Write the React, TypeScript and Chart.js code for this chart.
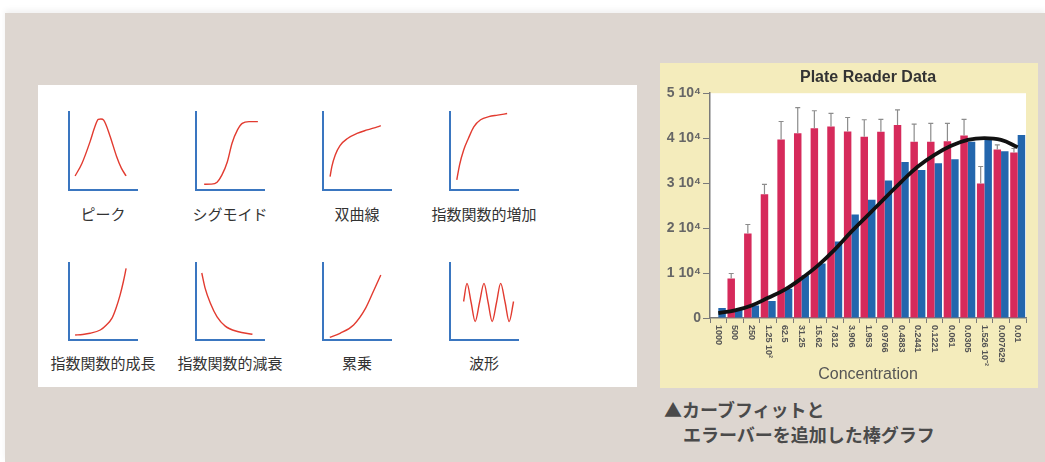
import React, { useEffect, useRef } from "react";
import { Chart, registerables } from "chart.js";

Chart.register(...registerables);

// ---------- Plate Reader data ----------
const concentrations = [
  "1000", "500", "250", "1.25 10²", "62.5", "31.25", "15.62", "7.812", "3.906", "1.953",
  "0.9766", "0.4883", "0.2441", "0.1221", "0.061", "0.0305", "1.526 10⁻²", "0.007629", "0.01",
];
const redValues = [null, 8800, 18800, 27500, 39700, 41100, 42200, 42600, 41500, 40300, 41400, 42900, 39200, 39200, 39300, 40600, 29900, 37500, 36800];
const redErrors = [0, 1100, 2000, 2200, 4000, 5700, 3900, 2900, 3100, 3800, 2800, 3400, 3900, 4100, 4000, 3600, 3800, 1000, 900];
const blueValues = [2200, 1800, 2800, 3800, 6500, 9500, 12100, 17000, 23000, 26300, 30600, 34700, 32900, 34400, 35300, 39200, 39700, 37100, 40700];
const fitValues = [1100, 1700, 2800, 4500, 6300, 8800, 11700, 15200, 19200, 22900, 26600, 30300, 33700, 36300, 38300, 39600, 40000, 39600, 38000];
const yTicks = [0, 10000, 20000, 30000, 40000, 50000];

// ---------- Curve-type thumbnails (values on a 0..10 grid) ----------
const peakX = [0.9, 1.9, 3.1, 3.8, 4.3, 4.7, 5.1, 6.0, 7.0, 7.7, 8.4];
const peakY = [1.8, 3.4, 6.2, 8.1, 9.05, 9.1, 8.95, 7.0, 4.3, 2.8, 1.8];
const sigX = [1.2, 2.2, 3.1, 3.8, 4.6, 5.3, 6.1, 6.8, 7.8, 9.1];
const sigY = [0.73, 0.75, 1.0, 1.9, 3.6, 6.0, 7.7, 8.55, 8.76, 8.76];
const hypX = [1.04, 1.3, 1.8, 2.5, 3.6, 5.0, 6.5, 8.0, 8.5];
const hypY = [1.7, 3.0, 4.5, 5.7, 6.6, 7.25, 7.7, 8.1, 8.25];
const expIncX = [1.0, 1.4, 2.0, 2.7, 3.5, 4.5, 5.7, 7.0, 8.4];
const expIncY = [1.3, 3.2, 5.1, 6.6, 8.1, 9.0, 9.4, 9.6, 9.8];
const expGrowX = [0.9, 2.0, 3.1, 4.6, 5.5, 6.3, 6.9, 7.5, 8.0, 8.4];
const expGrowY = [0.65, 0.72, 0.87, 1.3, 1.95, 2.8, 4.1, 5.8, 7.6, 9.3];
const decX = [0.85, 1.35, 2.1, 3.1, 4.3, 6.1, 8.3];
const decY = [8.7, 6.7, 4.8, 3.0, 1.8, 1.1, 0.74];
const powX = [1.0, 2.5, 4.5, 6.25, 7.5, 8.5];
const powY = [0.35, 0.87, 1.95, 4.1, 6.5, 8.45];
const waveX = [2.0, 2.5, 3.1, 3.7, 4.35, 5.0, 5.6, 6.2, 6.85, 7.45, 8.1, 8.7, 9.35];
const waveY = [5.0, 7.35, 4.9, 2.4, 4.9, 7.35, 4.9, 2.4, 4.9, 7.35, 4.9, 2.4, 5.0];

const curveNames = ["ピーク", "シグモイド", "双曲線", "指数関数的増加", "指数関数的成長", "指数関数的減衰", "累乗", "波形"];
const curveXs = [peakX, sigX, hypX, expIncX, expGrowX, decX, powX, waveX];
const curveYs = [peakY, sigY, hypY, expIncY, expGrowY, decY, powY, waveY];

const AXIS_BLUE = "#3a76c0";
const CURVE_RED = "#e23b30";

function MiniCurve(props: { xs: number[]; ys: number[]; axLeft: number; axTop: number; axRight: number; axBottom: number }) {
  const { xs, ys, axLeft, axTop, axRight, axBottom } = props;
  const ref = useRef<HTMLCanvasElement>(null);
  const w = axRight - axLeft + 3;
  const h = axBottom - axTop + 3;
  useEffect(() => {
    const axisOpts: any = {
      type: "linear",
      min: 0,
      max: 10,
      grid: { display: false, drawTicks: false },
      ticks: { display: false },
      border: { display: true, color: AXIS_BLUE, width: 2 },
    };
    const chart = new Chart(ref.current as HTMLCanvasElement, {
      type: "line",
      data: {
        datasets: [
          {
            data: xs.map((x, i) => ({ x, y: ys[i] })),
            borderColor: CURVE_RED,
            borderWidth: 1.4,
            pointRadius: 0,
            cubicInterpolationMode: "monotone",
            fill: false,
          } as any,
        ],
      },
      options: {
        animation: false,
        responsive: false,
        maintainAspectRatio: false,
        events: [],
        layout: { padding: { left: 2, top: 1, right: 1, bottom: 2 } },
        plugins: { legend: { display: false }, tooltip: { enabled: false } },
        scales: { x: { ...axisOpts }, y: { ...axisOpts } },
      },
    });
    return () => chart.destroy();
  }, []);
  return (
    <canvas
      ref={ref}
      width={w}
      height={h}
      style={{ position: "absolute", left: axLeft - 2, top: axTop - 1, width: w, height: h }}
    />
  );
}

function PlateChart() {
  const ref = useRef<HTMLCanvasElement>(null);
  useEffect(() => {
    const decor = {
      id: "decor",
      beforeDraw(chart: any) {
        const { ctx, chartArea: a } = chart;
        ctx.save();
        ctx.fillStyle = "#ffffff";
        ctx.fillRect(a.left, a.top, a.right - a.left, a.bottom - a.top);
        ctx.restore();
      },
      afterDatasetsDraw(chart: any) {
        const { ctx } = chart;
        const yScale = chart.scales.y;
        const meta = chart.getDatasetMeta(0);
        ctx.save();
        ctx.strokeStyle = "#8c8c8c";
        ctx.lineWidth = 1.2;
        meta.data.forEach((bar: any, i: number) => {
          const v = redValues[i];
          const e = redErrors[i];
          if (v == null || !e) return;
          const yTop = yScale.getPixelForValue(v + e);
          ctx.beginPath();
          ctx.moveTo(bar.x, bar.y);
          ctx.lineTo(bar.x, yTop);
          ctx.moveTo(bar.x - 2.5, yTop);
          ctx.lineTo(bar.x + 2.5, yTop);
          ctx.stroke();
        });
        ctx.restore();
      },
      afterDraw(chart: any) {
        const { ctx, chartArea } = chart;
        const xScale = chart.scales.x;
        ctx.save();
        ctx.fillStyle = "#555555";
        ctx.font = 'bold 9px "Liberation Sans", Arial, sans-serif';
        ctx.textAlign = "left";
        ctx.textBaseline = "middle";
        concentrations.forEach((lab, i) => {
          const x = xScale.getPixelForValue(i);
          ctx.save();
          ctx.translate(x, chartArea.bottom + 7);
          ctx.rotate(Math.PI / 2);
          ctx.fillText(lab, 0, 0);
          ctx.restore();
        });
        ctx.restore();
      },
    };

    const chart = new Chart(ref.current as HTMLCanvasElement, {
      type: "bar",
      data: {
        labels: concentrations,
        datasets: [
          {
            label: "A",
            data: redValues as any,
            backgroundColor: "#d62a5b",
            order: 1,
            categoryPercentage: 0.9,
            barPercentage: 1.0,
          },
          {
            label: "B",
            data: blueValues,
            backgroundColor: "#2366ad",
            order: 2,
            categoryPercentage: 0.9,
            barPercentage: 1.0,
          },
          {
            type: "line",
            label: "Fit",
            data: fitValues,
            borderColor: "#111111",
            borderWidth: 3.8,
            pointRadius: 0,
            tension: 0.4,
            fill: false,
            order: 0,
          } as any,
        ],
      },
      options: {
        animation: false,
        responsive: false,
        maintainAspectRatio: false,
        events: [],
        layout: { padding: { left: 0, right: 12, top: 0, bottom: 0 } },
        plugins: {
          legend: { display: false },
          tooltip: { enabled: false },
          title: {
            display: true,
            text: "Plate Reader Data",
            fullSize: false,
            color: "#333333",
            font: { size: 16, weight: "bold", family: '"Liberation Sans", Arial, sans-serif' },
            padding: { top: 5, bottom: 6 },
          },
        },
        scales: {
          x: {
            offset: true,
            grid: { display: true, drawOnChartArea: false, drawTicks: true, tickLength: 5, color: "#7a7a7a", offset: true },
            border: { color: "#7a7a7a", width: 1.5 },
            ticks: { display: false },
            title: {
              display: true,
              text: "Concentration",
              color: "#555555",
              font: { size: 16, family: '"Liberation Sans", Arial, sans-serif' },
              padding: { top: 0, bottom: 4 },
            },
            afterFit: (s: any) => {
              s.height = 70;
            },
          },
          y: {
            min: 0,
            max: 50000,
            afterBuildTicks: (s: any) => {
              s.ticks = yTicks.map((v) => ({ value: v }));
            },
            ticks: {
              color: "#666666",
              padding: 2,
              font: { size: 14, weight: "bold", family: '"Liberation Sans", Arial, sans-serif' },
              callback: (v: any) => (Number(v) === 0 ? "0" : `${Number(v) / 10000} 10⁴`),
            },
            grid: { display: true, drawOnChartArea: false, drawTicks: true, tickLength: 7, color: "#7a7a7a" },
            border: { color: "#7a7a7a", width: 1.5 },
            afterFit: (s: any) => {
              s.width = 50;
            },
          },
        },
      },
      plugins: [decor],
    });
    return () => chart.destroy();
  }, []);
  return (
    <canvas
      ref={ref}
      width={378}
      height={325}
      style={{ position: "absolute", left: 660, top: 63, width: 378, height: 325, background: "#f4ecbc" }}
    />
  );
}

const colLefts = [69, 196, 323, 450];
const rowAxes = [
  { top: 112, bottom: 190, label: 214 },
  { top: 263, bottom: 340, label: 363 },
];

export default function App() {
  return (
    <div
      style={{
        position: "fixed",
        left: 0,
        top: 0,
        width: 1045,
        height: 462,
        background: "#ffffff",
        overflow: "hidden",
        fontFamily: '"Noto Sans CJK JP", "Noto Sans", sans-serif',
      }}
    >
      <div
        style={{
          position: "absolute",
          left: 5,
          top: 13,
          right: 0,
          bottom: 0,
          background: "#ddd6d0",
          boxShadow: "0 -3px 6px rgba(0,0,0,0.06)",
        }}
      />
      <div style={{ position: "absolute", left: 38, top: 85, width: 599, height: 302, background: "#ffffff" }} />
      {curveNames.map((name, i) => {
        const row = rowAxes[Math.floor(i / 4)];
        const left = colLefts[i % 4];
        return (
          <React.Fragment key={name}>
            <MiniCurve xs={curveXs[i]} ys={curveYs[i]} axLeft={left} axTop={row.top} axRight={left + 68} axBottom={row.bottom} />
            <div
              style={{
                position: "absolute",
                left: left + 34 - 70,
                width: 140,
                top: row.label - 10,
                height: 20,
                lineHeight: "20px",
                textAlign: "center",
                fontSize: 15,
                color: "#333333",
                whiteSpace: "nowrap",
              }}
            >
              {name}
            </div>
          </React.Fragment>
        );
      })}
      <PlateChart />
      <div
        style={{
          position: "absolute",
          left: 664,
          top: 397,
          fontSize: 18,
          lineHeight: "25px",
          fontWeight: "bold",
          color: "#4a4a4a",
          whiteSpace: "nowrap",
        }}
      >
        <div>▲カーブフィットと</div>
        <div style={{ paddingLeft: 19 }}>エラーバーを追加した棒グラフ</div>
      </div>
    </div>
  );
}
